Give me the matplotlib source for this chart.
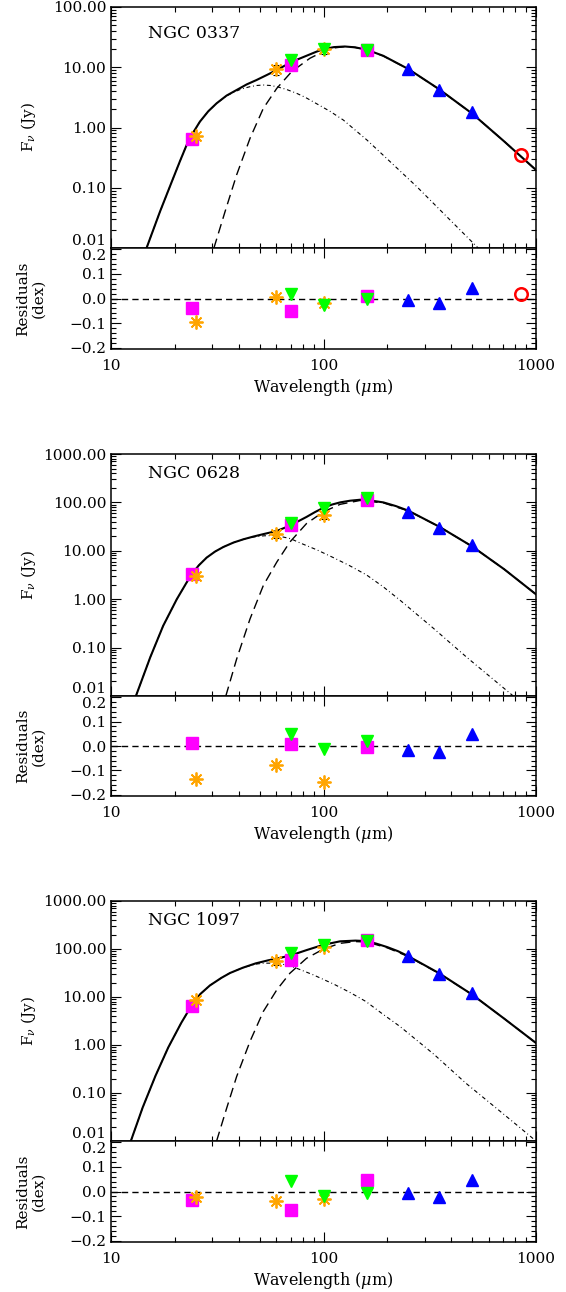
import matplotlib
matplotlib.use('Agg')
import matplotlib.pyplot as plt
import matplotlib.ticker as mticker

plt.rcParams['font.family'] = 'DejaVu Serif'
plt.rcParams['mathtext.fontset'] = 'dejavuserif'

FIG_W, FIG_H = 566, 1292

# band wavelengths (micron)
MIPS_WL = [24, 70, 160]
IRAS_WL = [25, 60, 100]
PACS_WL = [70, 100, 160]
SPIRE_WL = [250, 350, 500]
SCUBA_WL = [850]

# ---- NGC 0337 ----
n0337_mips = [0.65, 11.0, 19.3]
n0337_iras = [0.73, 9.2, 20.0]
n0337_iras_err = [0.08, 1.8, 3.5]
n0337_pacs = [13.0, 19.9, 19.5]
n0337_spire = [9.25, 4.19, 1.79]
n0337_scuba = [0.345]
n0337_mips_res = [-0.037, -0.052, 0.010]
n0337_iras_res = [-0.097, 0.007, -0.018]
n0337_pacs_res = [0.020, -0.028, 0.000]
n0337_spire_res = [-0.008, -0.018, 0.041]
n0337_scuba_res = [0.019]

n0337_tot_wl = [14.7, 17.0, 19.6, 21.1, 22.7, 24.4, 26.2, 28.7, 31.4, 35.0, 39.0, 43.5, 48.4,
                54.0, 60.3, 70.0, 74.8, 92.9, 100, 112, 126, 141, 160, 191, 251, 350, 501,
                708, 1000]
n0337_tot_f = [0.0100, 0.0401, 0.143, 0.275, 0.513, 0.832, 1.25, 1.86, 2.52, 3.39, 4.19, 5.19,
               6.14, 7.41, 9.0, 12.0, 13.3, 18.2, 20.0, 21.6, 22.1, 21.4, 19.5, 15.5, 9.33,
               4.32, 1.70, 0.589, 0.197]
n0337_cold_wl = [30.5, 34.4, 39.0, 45.1, 52.1, 60.3, 70.8, 86.3, 99.8, 112, 126, 141, 160, 191,
                 251, 350, 501, 708, 1000]
n0337_cold_f = [0.010, 0.040, 0.163, 0.661, 2.08, 4.47, 8.45, 14.1, 18.2, 20.9, 22.0, 21.3, 19.3,
                15.4, 9.3, 4.3, 1.70, 0.589, 0.197]
n0337_warm_wl = [14.7, 17.0, 19.6, 21.1, 22.7, 24.4, 26.2, 28.7, 31.4, 35.0, 38.0, 41.2, 45.1,
                 48.4, 52.1, 56.2, 60.3, 67.1, 74.8, 82.6, 91.2, 107.2, 124, 160, 198, 275,
                 394, 536]
n0337_warm_f = [0.0100, 0.0401, 0.143, 0.275, 0.513, 0.832, 1.25, 1.86, 2.52, 3.35, 3.89, 4.37,
                4.76, 4.98, 5.07, 4.98, 4.76, 4.27, 3.69, 3.13, 2.57, 1.86, 1.33, 0.621, 0.308,
                0.104, 0.0292, 0.00989]

# ---- NGC 0628 ----
n0628_mips = [3.32, 34.0, 112.0]
n0628_iras = [3.0, 21.9, 55.0]
n0628_iras_err = [0.35, 3.5, 9.0]
n0628_pacs = [38.0, 77.8, 122.0]
n0628_spire = [64.0, 30.0, 13.2]
n0628_mips_res = [0.013, 0.007, -0.004]
n0628_iras_res = [-0.135, -0.076, -0.149]
n0628_pacs_res = [0.049, -0.014, 0.020]
n0628_spire_res = [-0.017, -0.025, 0.051]

n0628_tot_wl = [13.1, 15.3, 17.6, 20.4, 23.8, 25.9, 28.2, 30.9, 33.8, 37.7, 42.0, 46.8, 52.1,
                60.3, 69.5, 83.2, 91.2, 100, 109.6, 119.7, 133.4, 148.6, 166.0, 191.4, 218.8,
                250.6, 350, 501, 708, 1000]
n0628_tot_f = [0.0100, 0.0631, 0.282, 1.0, 3.16, 5.01, 7.24, 9.66, 12.0, 14.8, 17.3, 19.7, 22.1,
               25.7, 33.1, 50.1, 63.1, 77.6, 90.2, 100, 108.4, 113.5, 109.6, 100, 84.1, 67.6,
               31.6, 12.3, 4.17, 1.26]
n0628_cold_wl = [34.7, 39.0, 45.1, 52.1, 60.3, 69.5, 83.2, 100, 119.7, 148.6, 191.4, 250.6,
                 350, 501, 708, 1000]
n0628_cold_f = [0.0100, 0.0577, 0.391, 1.92, 5.86, 15.2, 36.6, 64.0, 91.2, 109.6, 97.7, 66.8,
                31.6, 12.3, 4.17, 1.26]
n0628_warm_wl = [13.1, 15.3, 17.6, 20.4, 23.8, 25.9, 28.2, 30.9, 33.8, 37.7, 42.0, 46.8, 52.5,
                 57.5, 63.1, 70.0, 77.4, 92.9, 111.2, 131.8, 159.6, 190.5, 229.1, 328.9, 472.1,
                 781.6]
n0628_warm_f = [0.0100, 0.0631, 0.282, 1.0, 3.16, 5.01, 7.24, 9.66, 12.0, 14.8, 17.3, 19.3, 20.4,
                20.7, 19.7, 17.8, 14.6, 10.5, 7.24, 5.01, 3.16, 1.82, 0.955, 0.251, 0.0631,
                0.0100]

# ---- NGC 1097 ----
n1097_mips = [6.5, 58.0, 157.0]
n1097_iras = [8.5, 55.5, 110.0]
n1097_iras_err = [0.9, 8.0, 16.0]
n1097_pacs = [82.6, 124.0, 145.0]
n1097_spire = [70.5, 29.7, 12.1]
n1097_mips_res = [-0.036, -0.074, 0.047]
n1097_iras_res = [-0.022, -0.038, -0.029]
n1097_pacs_res = [0.041, -0.018, -0.008]
n1097_spire_res = [-0.005, -0.022, 0.045]

n1097_tot_wl = [12.4, 14.1, 16.2, 18.6, 21.4, 24.0, 26.3, 29.2, 33.1, 36.3, 41.7, 47.9, 55.0,
                60.3, 70.0, 83.2, 100, 119.7, 141.3, 160, 177.8, 199.5, 223.9, 250, 350, 501,
                708, 1000]
n1097_tot_f = [0.0100, 0.0501, 0.229, 0.891, 2.88, 6.76, 11.5, 17.4, 25.1, 31.6, 40.7, 50.1,
               58.2, 63.1, 73.3, 94.8, 122.5, 144.5, 149.6, 146.2, 128.8, 109.6, 90.2, 71.3,
               31.3, 11.2, 3.55, 1.10]
n1097_cold_wl = [31.4, 35.0, 39.0, 45.1, 52.1, 60.3, 69.5, 83.2, 100, 119.7, 141.3, 160, 199.5,
                 250, 350, 501, 708, 1000]
n1097_cold_f = [0.0100, 0.0479, 0.219, 1.19, 5.0, 14.1, 31.3, 64.0, 100, 131.2, 142.9, 139.6,
                105.9, 70.0, 30.9, 11.2, 3.55, 1.10]
n1097_warm_wl = [12.4, 14.1, 16.2, 18.6, 21.4, 24.0, 26.3, 29.2, 33.1, 36.3, 41.7, 47.9, 52.5,
                 57.5, 63.1, 68.4, 74.1, 89.1, 112.2, 133.4, 158.5, 190.5, 229.1, 331.1, 467.7,
                 776.2, 1000]
n1097_warm_f = [0.0100, 0.0501, 0.229, 0.891, 2.88, 6.76, 11.5, 17.4, 25.1, 31.6, 40.7, 48.4,
                50.7, 50.7, 49.0, 45.2, 40.3, 29.2, 18.4, 12.4, 8.04, 4.37, 2.43, 0.638, 0.160,
                0.0254, 0.0100]

# pixel boxes (left, top, right, bottom) of the flux and residual panels
panels = [
    dict(name='NGC 0337', ymax=100, box=(111, 7, 536, 248), rbox=(111, 248, 536, 349), namey=0.89,
         mips=n0337_mips, iras=n0337_iras, iras_err=n0337_iras_err, pacs=n0337_pacs,
         spire=n0337_spire, scuba=n0337_scuba,
         mips_res=n0337_mips_res, iras_res=n0337_iras_res, pacs_res=n0337_pacs_res,
         spire_res=n0337_spire_res, scuba_res=n0337_scuba_res,
         tot=(n0337_tot_wl, n0337_tot_f), cold=(n0337_cold_wl, n0337_cold_f),
         warm=(n0337_warm_wl, n0337_warm_f)),
    dict(name='NGC 0628', ymax=1000, box=(111, 454, 536, 696), rbox=(111, 696, 536, 796), namey=0.92,
         mips=n0628_mips, iras=n0628_iras, iras_err=n0628_iras_err, pacs=n0628_pacs,
         spire=n0628_spire, scuba=None,
         mips_res=n0628_mips_res, iras_res=n0628_iras_res, pacs_res=n0628_pacs_res,
         spire_res=n0628_spire_res, scuba_res=None,
         tot=(n0628_tot_wl, n0628_tot_f), cold=(n0628_cold_wl, n0628_cold_f),
         warm=(n0628_warm_wl, n0628_warm_f)),
    dict(name='NGC 1097', ymax=1000, box=(111, 901, 536, 1141), rbox=(111, 1141, 536, 1242), namey=0.92,
         mips=n1097_mips, iras=n1097_iras, iras_err=n1097_iras_err, pacs=n1097_pacs,
         spire=n1097_spire, scuba=None,
         mips_res=n1097_mips_res, iras_res=n1097_iras_res, pacs_res=n1097_pacs_res,
         spire_res=n1097_spire_res, scuba_res=None,
         tot=(n1097_tot_wl, n1097_tot_f), cold=(n1097_cold_wl, n1097_cold_f),
         warm=(n1097_warm_wl, n1097_warm_f)),
]


def px_axes(fig, box):
    l, t, r, b = box
    return fig.add_axes([l / FIG_W, 1 - b / FIG_H, (r - l) / FIG_W, (b - t) / FIG_H])


def style_axes(ax):
    for sp in ax.spines.values():
        sp.set_linewidth(1.1)
    ax.tick_params(which='both', direction='in', top=True, right=True, labelsize=11, width=0.8)
    ax.tick_params(which='major', length=7)
    ax.tick_params(which='minor', length=3.5)
    ax.set_xscale('log')
    ax.set_xlim(10, 1000)
    ax.xaxis.set_major_locator(mticker.LogLocator(base=10))
    ax.xaxis.set_minor_locator(mticker.LogLocator(base=10, subs=range(2, 10)))
    ax.xaxis.set_minor_formatter(mticker.NullFormatter())


def draw_points(ax, p, res=False):
    key = '_res' if res else ''
    if not res:
        ax.errorbar(IRAS_WL, p['iras'], yerr=p['iras_err'], fmt='none', ecolor='k',
                    elinewidth=0.8, capsize=2, capthick=0.8, zorder=3)
    ax.plot(MIPS_WL, p['mips' + key], 's', color='#ff00ff', ms=8, zorder=4)
    ax.plot(IRAS_WL, p['iras' + key], marker=(8, 2, 0), ls='none', color='#ffa500', ms=10,
            mew=1.3, zorder=5)
    ax.plot(PACS_WL, p['pacs' + key], 'v', color='#00ff00', ms=9, zorder=6)
    ax.plot(SPIRE_WL, p['spire' + key], '^', color='#0000ff', ms=9, zorder=6)
    if p['scuba' + key] is not None:
        ax.plot(SCUBA_WL, p['scuba' + key], 'o', mfc='none', mec='#ff0000', ms=9, mew=1.8, zorder=6)


fig = plt.figure(figsize=(FIG_W / 100, FIG_H / 100), dpi=100)
flux_axes, res_axes = [], []

for p in panels:
    ax = px_axes(fig, p['box'])
    style_axes(ax)
    ax.set_yscale('log')
    ax.set_ylim(0.01, p['ymax'])
    ax.yaxis.set_major_locator(mticker.LogLocator(base=10))
    ax.yaxis.set_minor_locator(mticker.LogLocator(base=10, subs=range(2, 10)))
    ax.yaxis.set_major_formatter(mticker.FuncFormatter(lambda v, pos: '%.2f' % v))
    ax.yaxis.set_minor_formatter(mticker.NullFormatter())
    ax.tick_params(axis='x', labelbottom=False)

    ax.plot(*p['tot'], color='k', lw=1.5, zorder=2)
    ax.plot(*p['cold'], color='k', lw=1.0, ls=(0, (7, 4)), zorder=2)
    ax.plot(*p['warm'], color='k', lw=0.8, ls=(0, (3.5, 2.5, 0.8, 2.5)), zorder=2)
    draw_points(ax, p)
    ax.text(0.087, p['namey'], p['name'], transform=ax.transAxes, fontsize=12.5, va='center')

    l, t, r, b = p['box']
    fig.text(28 / FIG_W, 1 - (t + b) / 2 / FIG_H, r'F$_\nu$ (Jy)', rotation=90,
             ha='center', va='center', fontsize=11)

    rax = px_axes(fig, p['rbox'])
    style_axes(rax)
    rax.set_ylim(-0.205, 0.205)
    rax.yaxis.set_major_locator(mticker.MultipleLocator(0.1))
    rax.yaxis.set_minor_locator(mticker.MultipleLocator(0.02))
    rax.yaxis.set_major_formatter(
        mticker.FuncFormatter(lambda v, pos: ('%.1f' % v).replace('-', '\u2212') if abs(v) > 0.01 else '0.0'))
    rax.xaxis.set_major_formatter(mticker.FuncFormatter(lambda v, pos: '%d' % round(v)))
    rax.tick_params(axis='x', pad=7)
    rax.axhline(0, color='k', lw=1.0, ls=(0, (4.5, 3)), zorder=1)
    draw_points(rax, p, res=True)
    rax.set_xlabel(r'Wavelength ($\mu$m)', fontsize=11.5, labelpad=3)

    l, t, r, b = p['rbox']
    fig.text(31 / FIG_W, 1 - (t + b) / 2 / FIG_H, 'Residuals\n(dex)', rotation=90,
             ha='center', va='center', multialignment='center', fontsize=11, linespacing=1.15)
    flux_axes.append(ax)
    res_axes.append(rax)

# the lowest flux label and the top residual label sit on the same spine:
# nudge them apart as in the original
fig.canvas.draw()
for ax in flux_axes:
    for tick in ax.yaxis.get_major_ticks():
        if abs(tick.get_loc() - 0.01) < 1e-6:
            tick.label1.set_va('bottom')
for rax in res_axes:
    for tick in rax.yaxis.get_major_ticks():
        if abs(tick.get_loc() - 0.2) < 1e-6:
            tick.label1.set_va('top')

fig.savefig('out.png', dpi=100)
